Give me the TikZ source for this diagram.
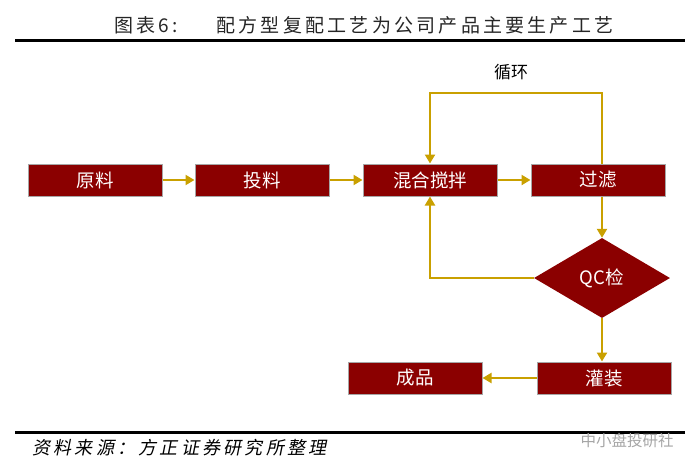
\documentclass[tikz,border=0pt]{standalone}
\usepackage{fontspec}
\setmainfont{Noto Sans CJK SC}
\newfontfamily\ttlfont[LetterSpace=17]{Noto Sans CJK SC}
\newfontfamily\srcfont[FakeSlant=0.2,LetterSpace=18]{Noto Sans CJK SC}
\usepackage{tikz}
\usetikzlibrary{arrows.meta,shapes.geometric}
\definecolor{boxred}{RGB}{139,0,0}
\definecolor{flowgold}{RGB}{201,160,0}

\begin{document}
\begin{tikzpicture}
	[x=1pt,y=-1pt,
	 stepbox/.style={draw=gray!70,line width=1pt,fill=boxred,text=white,
	   minimum width=134pt,minimum height=32pt,inner sep=0pt,
	   font=\fontsize{18.5}{18.5}\selectfont},
	 qcbox/.style={diamond,fill=boxred,text=white,aspect=1.7,inner sep=0pt,
	   minimum width=136pt,minimum height=80pt,font=\fontsize{18.5}{18.5}\selectfont},
	 flow/.style={draw=flowgold,line width=2.6pt,
	   -{Triangle[length=9pt,width=10pt]}},
	 rule/.style={line width=3pt}]
\useasboundingbox (0,0) rectangle (700,471);
% title
\node[anchor=west,text=black!85,font=\ttlfont\fontsize{19}{19}\selectfont] (ttlno) at (111,25) {图表6:};
\node[anchor=west,text=black!85,font=\ttlfont\fontsize{19}{19}\selectfont] (ttl) at (213,25) {配方型复配工艺为公司产品主要生产工艺};
\draw[rule] (15,40) -- (685,40);
% process
\node[stepbox] (raw) at (95,180) {原料};
\node[stepbox] (feed) at (262,180) {投料};
\node[stepbox] (mix) at (430,180) {混合搅拌};
\node[stepbox] (filt) at (598,180) {过滤};
\node[qcbox] (qc) at (602,278) {QC检};
\node[stepbox] (fill) at (604,378) {灌装};
\node[stepbox] (prod) at (415,378) {成品};
\node[font=\fontsize{17}{17}\selectfont] (loop) at (511,72) {循环};
\coordinate (lptop) at (430,93);
\foreach \a/\b in {raw/feed,feed/mix,mix/filt,fill/prod}
\draw[flow] (\a) -- (\b);
\draw[flow] (filt.south -| qc.north) -- (qc.north);
\draw[flow] (qc.south) -- (qc.south |- fill.north);
\draw[flow] (filt.north -| qc.north) |- (lptop) -- (mix.north);
\draw[flow] (qc.west) -| (mix.south);
% source
\draw[rule] (15,432) -- (685,432);
\node[anchor=west,font=\srcfont\fontsize{18}{18}\selectfont] (src) at (29,448) {资料来源：方正证券研究所整理};
\node[text=gray!70,font=\fontsize{15.5}{15.5}\selectfont] (wmark) at (627,441) {中小盘投研社};
\end{tikzpicture}
\end{document}
